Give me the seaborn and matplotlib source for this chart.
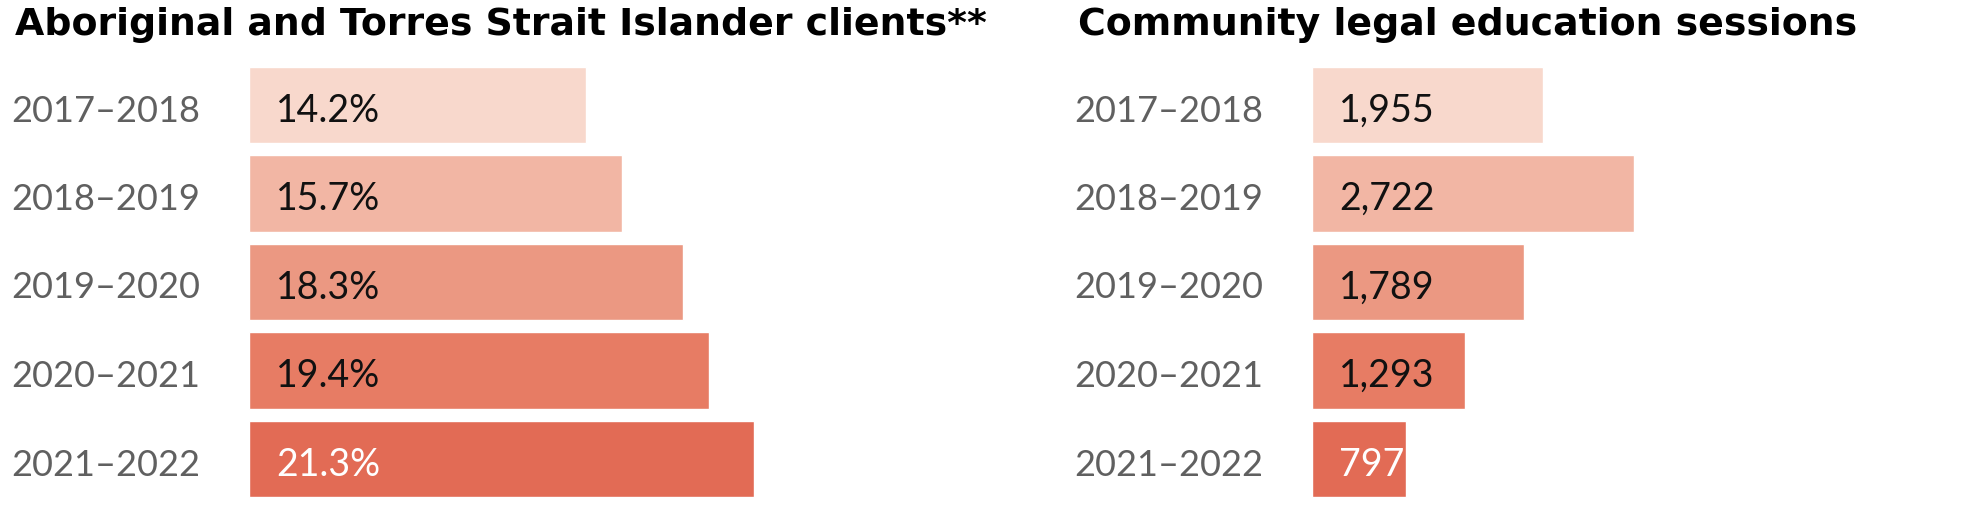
import numpy as np
import pandas as pd
import seaborn as sns
import matplotlib.pyplot as plt
from matplotlib.transforms import ScaledTranslation


# данные
years = ['2017–2018', '2018–2019', '2019–2020', '2020–2021', '2021–2022']
atsi_share = [14.2, 15.7, 18.3, 19.4, 21.3]
cle_sessions = [1955, 2722, 1789, 1293, 797]
bar_colors = ['#F8D8CC', '#F2B6A4', '#EB9882', '#E77C64', '#E26B55']
text_colors = ['#111111', '#111111', '#111111', '#111111', '#FFFFFF']

W, H = 1963, 508
DPI = 100

sns.set_theme(style='white')
plt.rcParams['font.family'] = ['Lato', 'DejaVu Sans']


def px_ax(fig, left, top, width, height):
	return fig.add_axes([left / W, 1 - (top + height) / H, width / W, height / H])


def bar_panel(ax, values, labels, xmax):
	df = pd.DataFrame({'year': years, 'value': values})
	sns.barplot(data=df, y='year', x='value', hue='year', palette=bar_colors,
				orient='h', width=0.86, saturation=1, legend=False, ax=ax)
	ax.set_xlim(0, xmax)
	ax.set_ylim(len(years) - 0.5, -0.5)
	ax.set_xlabel('')
	ax.set_ylabel('')
	ax.set_xticks([])
	sns.despine(ax=ax, left=True, bottom=True)
	ax.tick_params(axis='y', length=0, pad=35, labelsize=26, labelcolor='#606060')
	shift = ScaledTranslation(0, -3 / DPI, ax.figure.dpi_scale_trans)
	for t in ax.get_yticklabels():
		t.set_transform(t.get_transform() + shift)
	for i, (lab, col) in enumerate(zip(labels, text_colors)):
		ax.annotate(lab, xy=(0, i), xytext=(19.5, -12), textcoords='offset points',
					ha='left', va='baseline', fontsize=27, color=col)


fig = plt.figure(figsize=(W / DPI, H / DPI), dpi=DPI)

# слева: проценты
ax1 = px_ax(fig, 249, 60.75, 560, 442.5)
bar_panel(ax1, atsi_share, [f'{v:.1f}%' for v in atsi_share], 560 / 23.73)

# справа: сессии
ax2 = px_ax(fig, 1312, 60.75, 560, 442.5)
bar_panel(ax2, cle_sessions, [f'{v:,}' for v in cle_sessions], 560 / 0.1183)

# заголовки
title_kw = dict(ha='left', va='baseline', fontsize=27.3, fontweight='bold',
				color='black', family='DejaVu Sans')
fig.text(15 / W, 1 - 35 / H, 'Aboriginal and Torres Strait Islander clients**', **title_kw)
fig.text(1078 / W, 1 - 35 / H, 'Community legal education sessions', **title_kw)

fig.savefig('out.png', dpi=DPI)
